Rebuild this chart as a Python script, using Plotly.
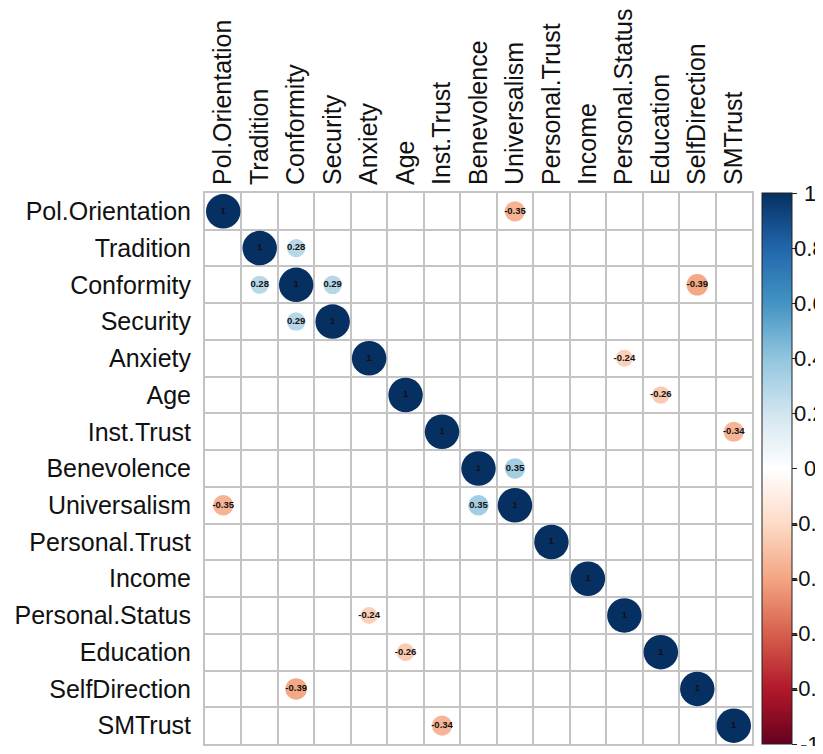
"""Correlation circle matrix (corrplot style) for the trust / values survey."""

import numpy as np
import plotly.graph_objects as go

variables = [
    "Pol.Orientation", "Tradition", "Conformity", "Security", "Anxiety",
    "Age", "Inst.Trust", "Benevolence", "Universalism", "Personal.Trust",
    "Income", "Personal.Status", "Education", "SelfDirection", "SMTrust",
]

# significant off-diagonal correlations (shown symmetrically)
pair_a = ["Pol.Orientation", "Tradition", "Conformity", "Conformity",
          "Anxiety", "Age", "Inst.Trust", "Benevolence"]
pair_b = ["Universalism", "Conformity", "Security", "SelfDirection",
          "Personal.Status", "Education", "SMTrust", "Universalism"]
pair_r = [-0.35, 0.28, 0.29, -0.39, -0.24, -0.26, -0.34, 0.35]

colorbar_ticks = [1, 0.8, 0.6, 0.4, 0.2, 0, -0.2, -0.4, -0.6, -0.8, -1]

rdbu = [
    [0.0, "#67001F"], [0.1, "#B2182B"], [0.2, "#D6604D"], [0.3, "#F4A582"],
    [0.4, "#FDDBC7"], [0.5, "#FFFFFF"], [0.6, "#D1E5F0"], [0.7, "#92C5DE"],
    [0.8, "#4393C3"], [0.9, "#2166AC"], [1.0, "#053061"],
]

idx = {v: i for i, v in enumerate(variables)}
xs, ys, rs = [], [], []
for i, v in enumerate(variables):
    xs.append(i)
    ys.append(i)
    rs.append(1.0)
for a, b, r in zip(pair_a, pair_b, pair_r):
    xs += [idx[b], idx[a]]
    ys += [idx[a], idx[b]]
    rs += [r, r]

rs = np.array(rs)
sizes = 34.5 * np.sqrt(np.abs(rs))
labels = [f"{r:g}" for r in rs]

n = len(variables)
font_family = "Liberation Sans, Arial, Helvetica, sans-serif"

fig = go.Figure()
fig.add_trace(
    go.Scatter(
        x=xs, y=ys,
        mode="markers+text",
        marker=dict(
            size=sizes, color=rs, colorscale=rdbu, cmin=-1, cmax=1,
            opacity=1, line=dict(width=0),
            colorbar=dict(
                x=1.018, xanchor="left", xref="paper", xpad=0,
                y=0, yanchor="bottom", len=1, lenmode="fraction", ypad=0,
                thickness=30,
                outlinecolor="#222222", outlinewidth=1,
                tickvals=colorbar_ticks, showticklabels=False,
                ticks="outside", ticklen=5, tickcolor="#222222",
            ),
        ),
        text=labels,
        textposition="middle center",
        textfont=dict(size=9.5, color="#111111", family=font_family, weight="bold"),
        hoverinfo="skip",
        showlegend=False,
    )
)

# colorbar labels, centred like corrplot's legend text (cut by the page edge)
for t in colorbar_ticks:
    fig.add_annotation(
        x=1.106, y=(t + 1) / 2, xref="paper", yref="paper",
        text=f"{t:g}", showarrow=False, xanchor="center", yanchor="middle",
        font=dict(size=22, color="#111111", family=font_family),
    )

grid = [i - 0.5 for i in range(n + 1)]
fig.update_xaxes(
    range=[-0.5, n - 0.5], side="top",
    tickvals=list(range(n)), ticktext=variables, tickangle=-90,
    tickfont=dict(size=25, color="#111111", family=font_family),
    showgrid=False, zeroline=False, ticks="", ticklabelstandoff=1,
    minor=dict(tickvals=grid, showgrid=True, gridcolor="#C4C4C4", gridwidth=2),
    showline=True, mirror=True, linecolor="#C4C4C4", linewidth=2,
    automargin=False,
)
fig.update_yaxes(
    range=[n - 0.5, -0.5],
    tickvals=list(range(n)), ticktext=variables,
    tickfont=dict(size=25, color="#111111", family=font_family),
    showgrid=False, zeroline=False, ticks="", ticklabelstandoff=7,
    minor=dict(tickvals=grid, showgrid=True, gridcolor="#C4C4C4", gridwidth=2),
    showline=True, mirror=True, linecolor="#C4C4C4", linewidth=2,
    automargin=False,
)

fig.update_layout(
    width=823, height=738,
    margin=dict(l=197, r=79, t=185, b=2, autoexpand=False),
    paper_bgcolor="white", plot_bgcolor="white",
    font=dict(family=font_family),
)

fig.write_html("out.html")
